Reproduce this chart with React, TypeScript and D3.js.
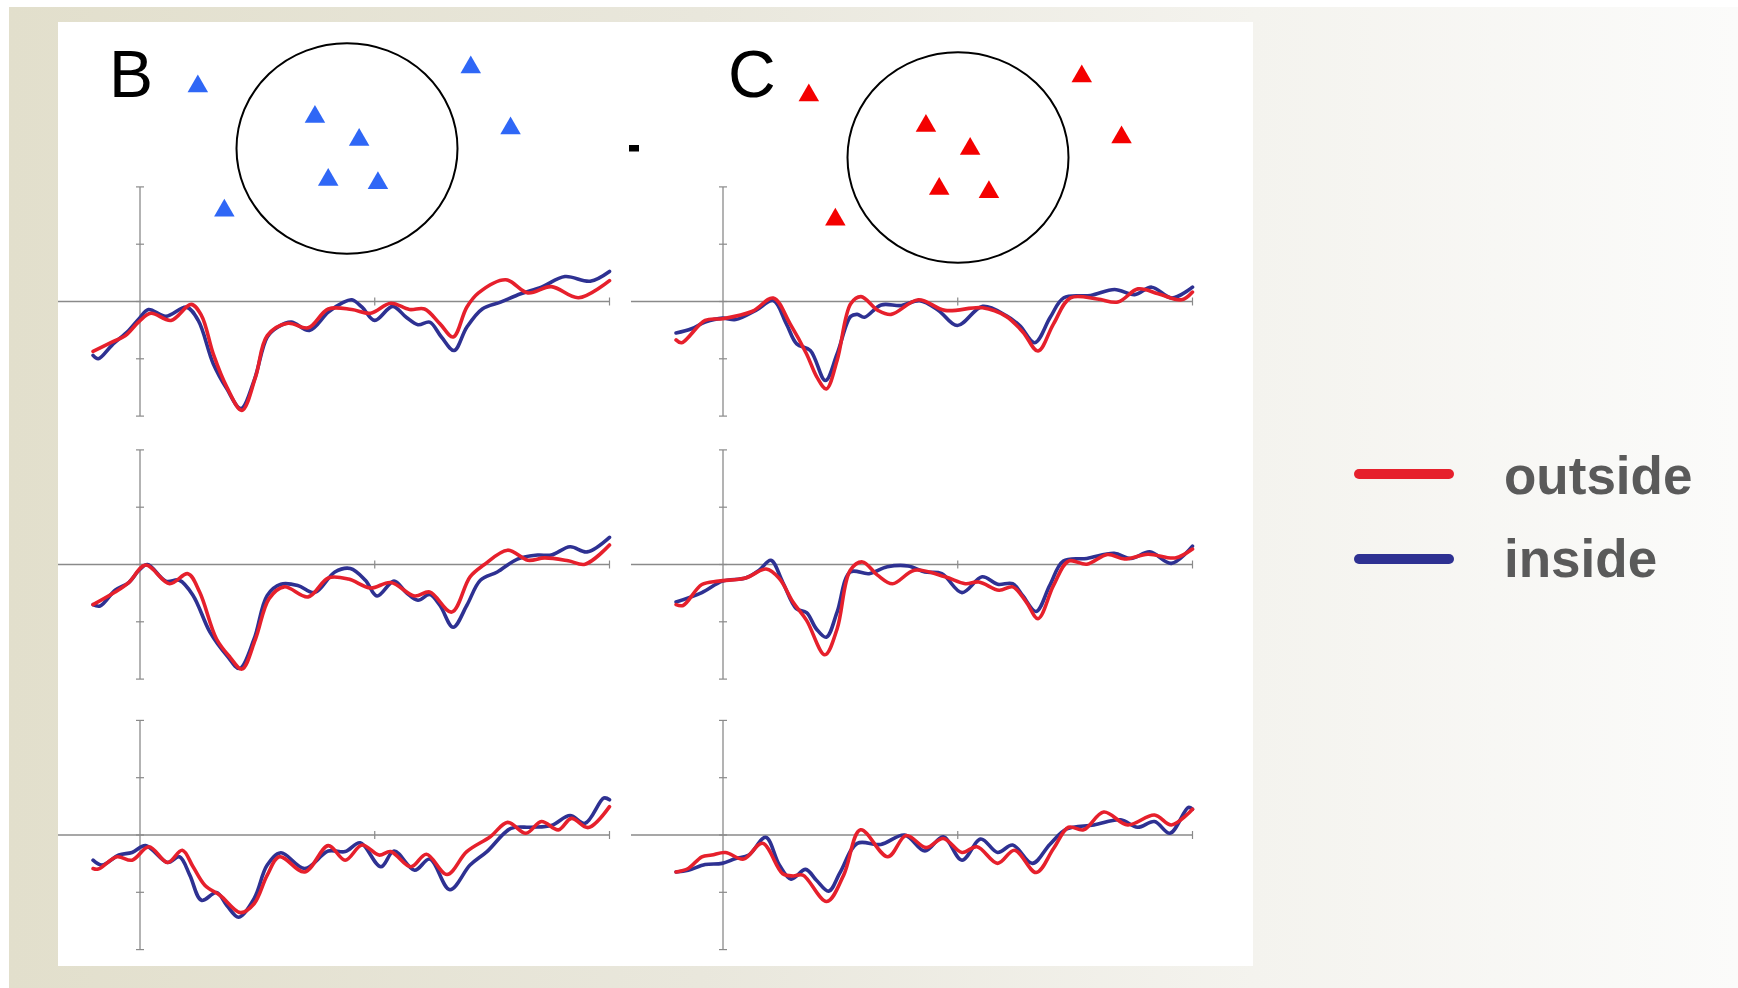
import React from "react";
import * as d3 from "d3";

// panel letters and conditions
const panelLabels = ["B", "C"];
const conditions = ["outside", "inside"];
const timeTicks = [0, 500, 1000]; // ms
const voltTicks = [-4, -2, 0, 2, 4]; // µV

// electrode layout, in head radii from the centre of the circle
const electrodes: [number, number][] = [
  [-1.35, -0.62],
  [-0.29, -0.33],
  [0.11, -0.11],
  [-0.17, 0.27],
  [0.28, 0.3],
  [-1.11, 0.56],
  [1.12, -0.8],
  [1.48, -0.22],
];

// [time ms, amplitude µV]
const bInside1: [number, number][] = [[-100,-1.88],[-89,-2.0],[-60,-1.53],[-24,-1.01],[-2,-0.6],[18,-0.28],[55,-0.52],[99,-0.2],[124,-0.66],[156,-2.17],[185,-3.05],[215,-3.74],[243,-2.76],[271,-1.24],[293,-0.9],[322,-0.72],[361,-1.01],[401,-0.37],[430,-0.06],[451,0.06],[473,-0.2],[500,-0.66],[538,-0.17],[567,-0.55],[592,-0.81],[617,-0.72],[642,-1.24],[669,-1.71],[696,-0.9],[729,-0.26],[768,-0.02],[811,0.27],[855,0.5],[905,0.87],[959,0.71],[1000,1.05]];
const bOutside1: [number, number][] = [[-100,-1.74],[-60,-1.42],[-31,-1.19],[-2,-0.7],[23,-0.41],[66,-0.66],[109,-0.1],[131,-0.49],[156,-1.83],[185,-2.99],[217,-3.8],[246,-2.64],[271,-1.19],[315,-0.76],[358,-0.92],[401,-0.26],[451,-0.28],[491,-0.41],[534,-0.06],[574,-0.28],[606,-0.26],[639,-0.78],[667,-1.24],[696,-0.2],[721,0.3],[779,0.76],[826,0.3],[876,0.52],[934,0.13],[1000,0.73]];

const bInside2: [number, number][] = [[-100,-1.4],[-85,-1.45],[-53,-0.9],[-24,-0.63],[-2,-0.2],[16,0.0],[55,-0.58],[84,-0.55],[113,-1.08],[149,-2.36],[185,-3.18],[212,-3.63],[243,-2.6],[271,-1.08],[300,-0.69],[336,-0.73],[372,-0.98],[415,-0.26],[448,-0.14],[480,-0.55],[505,-1.1],[541,-0.58],[567,-0.98],[592,-1.25],[617,-1.05],[639,-1.43],[667,-2.19],[696,-1.43],[725,-0.55],[761,-0.26],[804,0.19],[847,0.33],[876,0.33],[916,0.62],[952,0.44],[1000,0.95]];
const bOutside2: [number, number][] = [[-100,-1.4],[-53,-0.96],[-24,-0.63],[12,-0.02],[63,-0.67],[102,-0.32],[127,-0.96],[163,-2.6],[192,-3.24],[217,-3.65],[246,-2.6],[275,-1.19],[307,-0.78],[358,-1.13],[401,-0.47],[444,-0.51],[491,-0.82],[534,-0.63],[585,-1.1],[617,-0.96],[664,-1.66],[703,-0.43],[732,-0.02],[783,0.5],[826,0.15],[862,0.23],[912,0.13],[948,0.01],[1000,0.68]];

const bInside3: [number, number][] = [[-100,-0.88],[-81,-1.05],[-45,-0.7],[-17,-0.61],[12,-0.37],[59,-0.96],[84,-0.76],[106,-1.4],[131,-2.28],[163,-2.01],[185,-2.46],[210,-2.87],[243,-2.22],[271,-1.05],[300,-0.62],[351,-1.17],[401,-0.56],[437,-0.58],[469,-0.27],[513,-1.11],[541,-0.56],[585,-1.23],[617,-0.84],[660,-1.91],[703,-1.05],[739,-0.58],[790,0.23],[833,0.27],[876,0.33],[916,0.68],[948,0.41],[988,1.29],[1000,1.23]];
const bOutside3: [number, number][] = [[-100,-1.17],[-89,-1.19],[-49,-0.76],[-17,-0.88],[19,-0.41],[59,-0.96],[90,-0.53],[113,-1.11],[138,-1.75],[171,-2.11],[214,-2.71],[243,-2.4],[271,-1.4],[297,-0.76],[351,-1.29],[401,-0.37],[437,-0.88],[473,-0.35],[509,-0.7],[534,-0.58],[577,-1.11],[610,-0.67],[654,-1.38],[696,-0.58],[746,-0.06],[783,0.44],[822,0.06],[855,0.47],[891,0.18],[919,0.58],[955,0.26],[1000,0.99]];

const cInside1: [number, number][] = [[-100,-1.1],[-67,-0.95],[-38,-0.72],[-1,-0.58],[27,-0.63],[70,-0.31],[107,0.03],[135,-0.78],[157,-1.48],[186,-1.71],[218,-2.76],[243,-1.83],[272,-0.52],[286,-0.45],[301,-0.55],[337,-0.12],[380,-0.14],[419,0.03],[459,-0.31],[499,-0.84],[553,-0.17],[603,-0.49],[632,-0.84],[664,-1.44],[697,-0.55],[726,0.13],[783,0.21],[834,0.42],[877,0.24],[913,0.5],[956,0.12],[1000,0.5]];
const cOutside1: [number, number][] = [[-100,-1.34],[-88,-1.44],[-38,-0.66],[-1,-0.6],[63,-0.34],[107,0.12],[143,-0.78],[178,-1.83],[200,-2.64],[220,-3.05],[243,-2.06],[272,-0.08],[294,0.17],[330,-0.31],[358,-0.45],[416,0.06],[473,-0.31],[553,-0.22],[603,-0.52],[639,-1.07],[671,-1.73],[704,-0.78],[740,0.13],[797,0.09],[841,-0.02],[884,0.44],[927,0.27],[977,0.06],[1000,0.33]];

const cInside2: [number, number][] = [[-100,-1.31],[-45,-0.98],[-1,-0.58],[48,-0.47],[77,-0.2],[102,0.15],[127,-0.61],[156,-1.54],[178,-1.68],[199,-2.25],[220,-2.54],[243,-1.66],[271,-0.26],[311,-0.32],[350,-0.08],[394,-0.05],[430,-0.26],[466,-0.32],[509,-0.98],[552,-0.43],[585,-0.69],[617,-0.67],[639,-1.1],[667,-1.64],[696,-0.73],[725,0.12],[775,0.21],[833,0.39],[869,0.21],[909,0.44],[955,0.04],[1000,0.64]];
const cOutside2: [number, number][] = [[-100,-1.4],[-85,-1.43],[-45,-0.7],[-9,-0.58],[48,-0.47],[92,-0.16],[120,-0.49],[149,-1.31],[178,-1.95],[217,-3.15],[243,-2.25],[271,-0.2],[297,0.09],[329,-0.37],[361,-0.67],[408,-0.2],[473,-0.43],[516,-0.67],[545,-0.61],[588,-0.9],[617,-0.78],[646,-1.31],[671,-1.89],[704,-0.73],[736,0.12],[775,0.01],[819,0.35],[855,0.19],[905,0.36],[963,0.23],[1000,0.54]];

const cInside3: [number, number][] = [[-100,-1.29],[-74,-1.23],[-38,-1.03],[-2,-0.99],[27,-0.82],[55,-0.7],[91,-0.08],[120,-1.05],[145,-1.54],[176,-1.2],[199,-1.58],[225,-1.96],[250,-1.29],[286,-0.29],[336,-0.33],[387,0.0],[430,-0.56],[469,-0.06],[509,-0.88],[549,-0.14],[585,-0.61],[617,-0.35],[659,-0.99],[696,-0.33],[732,0.21],[790,0.35],[847,0.53],[883,0.27],[919,0.47],[952,0.06],[991,0.96],[1000,0.9]];
const cOutside3: [number, number][] = [[-100,-1.29],[-74,-1.17],[-45,-0.76],[-24,-0.7],[5,-0.61],[44,-0.84],[84,-0.29],[127,-1.35],[149,-1.43],[170,-1.4],[221,-2.32],[257,-1.4],[293,0.18],[351,-0.76],[390,-0.02],[433,-0.44],[469,-0.12],[509,-0.61],[541,-0.41],[585,-0.99],[621,-0.53],[667,-1.31],[704,-0.47],[736,0.27],[768,0.18],[811,0.8],[862,0.35],[919,0.7],[955,0.35],[1000,0.9]];

// [column][row] -> { outside, inside }
const traces = [
  [
    { outside: bOutside1, inside: bInside1 },
    { outside: bOutside2, inside: bInside2 },
    { outside: bOutside3, inside: bInside3 },
  ],
  [
    { outside: cOutside1, inside: cInside1 },
    { outside: cOutside2, inside: cInside2 },
    { outside: cOutside3, inside: cInside3 },
  ],
];

const colors: Record<string, string> = { outside: "#e6202c", inside: "#2e3192" };
const markerColors = ["#2f67f6", "#f40000"];

// layout
const W = 1738;
const H = 988;
const colT0 = [140, 723]; // x of t = 0
const msPx = 0.4695;
const rowZero = [301.5, 564.5, 835];
const halfSpan = 114.6;
const heads = [
  { cx: 347, cy: 148.5 },
  { cx: 958, cy: 157.5 },
];
const headRx = 110.5;
const headRy = 105.3;
const axisColor = "#8a8a8a";
const font = "'Liberation Sans', Arial, Helvetica, sans-serif";

const Panel = ({ col, row }: { col: number; row: number }) => {
  const x = d3.scaleLinear().domain([0, 1000]).range([colT0[col], colT0[col] + 1000 * msPx]);
  const y = d3.scaleLinear().domain([-4, 4]).range([rowZero[row] + halfSpan, rowZero[row] - halfSpan]);
  const line = d3
    .line<[number, number]>()
    .x((d) => x(d[0]))
    .y((d) => y(d[1]))
    .curve(d3.curveCatmullRom.alpha(0.5));
  const set = traces[col][row];
  const axisStart = Math.max(58, x(-196));
  return (
    <g>
      {/* time axis */}
      <line x1={axisStart} x2={x(1000)} y1={y(0)} y2={y(0)} stroke={axisColor} strokeWidth={1.3} />
      {timeTicks.slice(1).map((t) => (
        <line key={t} x1={x(t)} x2={x(t)} y1={y(0) - 4} y2={y(0) + 4} stroke={axisColor} strokeWidth={1.2} />
      ))}
      {/* amplitude axis */}
      <line x1={x(0)} x2={x(0)} y1={y(4)} y2={y(-4)} stroke={axisColor} strokeWidth={1.3} />
      {voltTicks.map((v) => (
        <line key={v} x1={x(0) - 4} x2={x(0) + 4} y1={y(v)} y2={y(v)} stroke={axisColor} strokeWidth={1.2} />
      ))}
      {["inside", "outside"].map((c) => (
        <path
          key={c}
          d={line((set as any)[c]) || ""}
          fill="none"
          stroke={colors[c]}
          strokeWidth={3.6}
          strokeLinejoin="round"
          strokeLinecap="round"
        />
      ))}
    </g>
  );
};

const Head = ({ col }: { col: number }) => {
  const { cx, cy } = heads[col];
  const hx = d3.scaleLinear().domain([-1, 1]).range([cx - headRx, cx + headRx]);
  const hy = d3.scaleLinear().domain([-1, 1]).range([cy - headRy, cy + headRy]);
  const tri = d3.symbol(d3.symbolTriangle, 182)();
  return (
    <g>
      <ellipse cx={cx} cy={cy} rx={headRx} ry={headRy} fill="none" stroke="#000" strokeWidth={2} />
      {electrodes.map((e, i) => (
        <path key={i} d={tri || ""} transform={`translate(${hx(e[0])},${hy(e[1]) + 3})`} fill={markerColors[col]} />
      ))}
      <text x={col === 0 ? 109 : 728} y={97} fontSize={66} fontFamily={font} fill="#000">
        {panelLabels[col]}
      </text>
    </g>
  );
};

export default function App() {
  const legendY = [474, 559];
  const labelY = [494, 577];
  return (
    <svg width={W} height={H} style={{ position: "absolute", left: 0, top: 0 }}>
      <defs>
        <linearGradient id="bg" x1="0" x2="1" y1="0" y2="0">
          <stop offset="0" stopColor="#e2dfcc" />
          <stop offset="0.4" stopColor="#e9e7dc" />
          <stop offset="0.72" stopColor="#f4f3ee" />
          <stop offset="1" stopColor="#fbfbfa" />
        </linearGradient>
      </defs>
      <rect x={0} y={0} width={W} height={H} fill="#fff" />
      <rect x={9} y={7} width={W - 9} height={H - 7} fill="url(#bg)" />
      <rect x={58} y={22} width={1195} height={944} fill="#fff" />

      {[0, 1].map((c) => (
        <Head key={c} col={c} />
      ))}
      <rect x={629} y={145} width={10} height={6.5} fill="#000" />

      {[0, 1].map((c) => [0, 1, 2].map((r) => <Panel key={`${c}-${r}`} col={c} row={r} />))}

      {conditions.map((c, i) => (
        <g key={c}>
          <line x1={1359} x2={1449} y1={legendY[i]} y2={legendY[i]} stroke={colors[c]} strokeWidth={10} strokeLinecap="round" />
          <text x={1504} y={labelY[i]} fontSize={53} fontWeight="bold" fontFamily={font} fill="#5a5a5a">
            {c}
          </text>
        </g>
      ))}
    </svg>
  );
}
